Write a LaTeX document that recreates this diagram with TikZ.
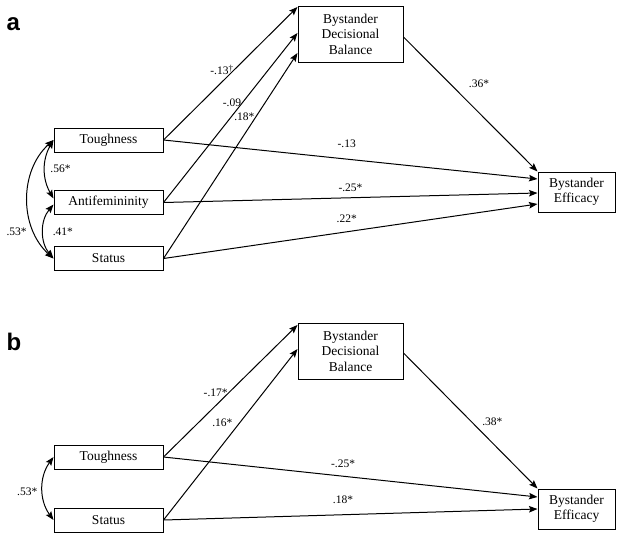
\documentclass[tikz,border=0pt]{standalone}
\usepackage{fontspec}
\setmainfont{Liberation Serif}
\newfontfamily\panelfont{Liberation Sans}
\usetikzlibrary{arrows.meta}

\tikzset{
  box/.style={draw, line width=1pt, align=center, inner sep=0pt,
    font=\fontsize{13.5}{15.5}\selectfont},
  lbl/.style={inner sep=1pt, font=\fontsize{11.5}{13}\selectfont},
  panel/.style={inner sep=0pt, anchor=base west,
    font=\panelfont\bfseries\fontsize{24}{24}\selectfont},
}

\begin{document}
\begin{tikzpicture}[x=1pt, y=-1pt, line width=1pt,
    >={Stealth[length=8.5pt,width=6.5pt,inset=1.5pt]}]
\useasboundingbox (0,0) rectangle (621,539);

      % panel a
      \node[panel] (tagA) at (6,30) {a};

      \begin{scope}[every node/.style={box}]
        \node[minimum width=109pt, minimum height=24pt] (tough)    at (108.5,140)   {Toughness};
        \node[minimum width=109pt, minimum height=24pt] (antifem)  at (108.5,202.5) {Antifemininity};
        \node[minimum width=109pt, minimum height=24pt] (status)   at (108.5,258.5) {Status};
        \node[minimum width=105pt, minimum height=56pt] (balance)  at (350.5,34)    {Bystander\\Decisional\\Balance};
        \node[minimum width=77pt,  minimum height=40pt] (efficacy) at (576.5,192)   {Bystander\\Efficacy};
      \end{scope}

      \begin{scope}[every node/.style={lbl}]

        \begin{scope}[every edge/.style={draw,->}]
          \path (tough.east)   edge node[pos=0.53, anchor=east] {-.13{\fontsize{9}{9}\selectfont\raisebox{3pt}{\textdagger}}} ([yshift=27pt]balance.west);
          \path (antifem.east) edge node[pos=0.59, anchor=east] {-.09} ([yshift=1pt]balance.west);
          \path (status.east)  edge node[pos=0.69, anchor=east] {.18*} ([yshift=-19pt]balance.west);
          \path ([yshift=-3pt]balance.east) edge node[pos=0.35, right=17pt] {.36*} (efficacy.north west);
          \path (tough.east)   edge node[pos=0.49, above=10pt] {-.13} ([yshift=13pt]efficacy.west);
          \path (antifem.east) edge node[pos=0.5, above=4.5pt] {-.25*} ([yshift=-1pt]efficacy.west);
          \path (status.east)  edge node[pos=0.49, above=7.5pt] {.22*} ([yshift=-12pt]efficacy.west);
        \end{scope}

        \begin{scope}[every edge/.style={draw,<->}]
          \path (tough.west) edge[bend right=30] node[right=4pt] {.56*} ([yshift=4pt]antifem.west);
          \path ([yshift=-2pt]antifem.west) edge[bend right=40] node[right=8pt] {.41*} (status.west);
          \path (tough.west) edge[bend right=48] node[pos=0.75, left=6pt] {.53*} (status.west);
        \end{scope}

      \end{scope}

      % panel b
      \node[panel] (tagB) at (6,350) {b};

      \begin{scope}[every node/.style={box}]
        \node[minimum width=109pt, minimum height=24pt] (toughB)    at (108.5,457) {Toughness};
        \node[minimum width=109pt, minimum height=24pt] (statusB)   at (108.5,520) {Status};
        \node[minimum width=105pt, minimum height=56pt] (balanceB)  at (350.5,351) {Bystander\\Decisional\\Balance};
        \node[minimum width=77pt,  minimum height=40pt] (efficacyB) at (576.5,509) {Bystander\\Efficacy};
      \end{scope}

      \begin{scope}[every node/.style={lbl}]

        \begin{scope}[every edge/.style={draw,->}]
          \path (toughB.east)  edge node[pos=0.49, anchor=east] {-.17*} ([yshift=26pt]balanceB.west);
          \path (statusB.east) edge node[pos=0.57, left=6pt] {.16*} ([yshift=2pt]balanceB.west);
          \path ([yshift=-2pt]balanceB.east) edge node[pos=0.51, right=9pt] {.38*} (efficacyB.north west);
          \path (toughB.east)  edge node[pos=0.48, above=7pt] {-.25*} ([yshift=12pt]efficacyB.west);
          \path (statusB.east) edge node[pos=0.48, above=9.5pt] {.18*} (efficacyB.west);
        \end{scope}

        \begin{scope}[every edge/.style={draw,<->}]
          \path (toughB.west) edge[bend right=36] node[pos=0.55, left=4pt] {.53*} (statusB.west);
        \end{scope}

      \end{scope}

\end{tikzpicture}
\end{document}
